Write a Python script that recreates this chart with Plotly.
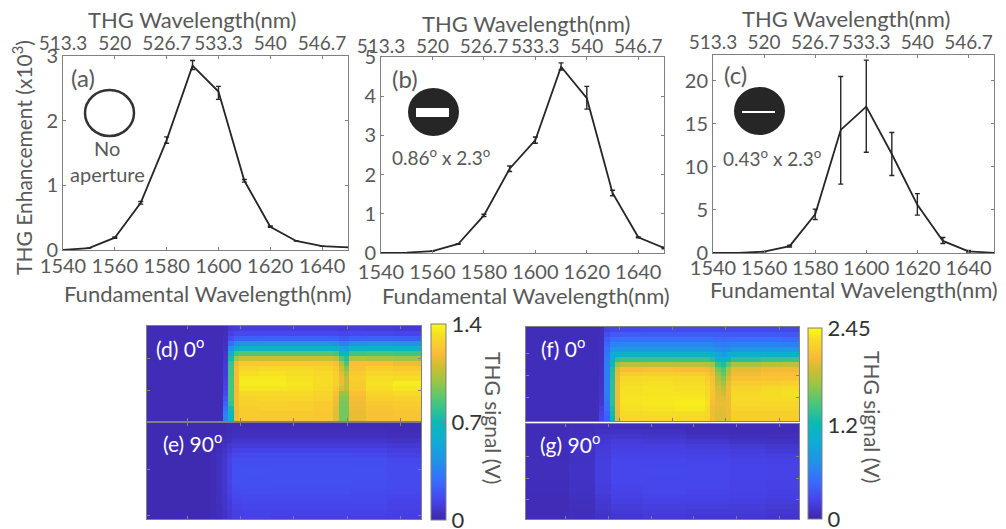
import plotly.graph_objects as go

W, H = 1006, 529
PAGE_H = 548
FONT = "Lato"
GREY = "#595959"
AXIS = "#808080"
DARK = "#262626"

wavelength = [1540, 1550, 1560, 1570, 1580, 1590, 1600, 1610, 1620, 1630, 1640, 1650]
fund_ticks = [1540, 1560, 1580, 1600, 1620, 1640]
thg_ticks = ["513.3", "520", "526.7", "533.3", "540", "546.7"]

a_y = [0.0, 0.03, 0.19, 0.73, 1.70, 2.85, 2.45, 1.07, 0.36, 0.14, 0.06, 0.04]
a_up = [0, 0, 0.01, 0.02, 0.05, 0.08, 0.08, 0.02, 0.01, 0, 0, 0]
a_dn = [0, 0, 0.01, 0.02, 0.05, 0.06, 0.12, 0.02, 0.01, 0, 0, 0]

b_y = [0.0, 0.01, 0.05, 0.23, 0.96, 2.15, 2.88, 4.75, 3.95, 1.53, 0.40, 0.13]
b_up = [0, 0, 0, 0.01, 0.03, 0.07, 0.08, 0.10, 0.30, 0.07, 0.01, 0.02]
b_dn = [0, 0, 0, 0.01, 0.03, 0.07, 0.08, 0.08, 0.28, 0.07, 0.01, 0.02]

c_y = [0.0, 0.02, 0.15, 0.80, 4.5, 14.3, 17.0, 11.5, 5.6, 1.4, 0.2, 0.02]
c_up = [0, 0, 0.02, 0.1, 0.6, 6.2, 5.4, 2.5, 1.3, 0.4, 0.1, 0]
c_dn = [0, 0, 0.02, 0.1, 0.6, 6.3, 5.3, 2.5, 1.2, 0.3, 0.1, 0]

parula = [
    [0.00, "rgb(62,38,168)"], [0.10, "rgb(71,68,236)"], [0.20, "rgb(56,108,254)"],
    [0.30, "rgb(33,146,232)"], [0.40, "rgb(14,172,214)"], [0.50, "rgb(12,185,180)"],
    [0.60, "rgb(70,198,125)"], [0.70, "rgb(150,198,70)"], [0.78, "rgb(205,190,50)"],
    [0.85, "rgb(250,188,55)"], [0.95, "rgb(246,225,35)"], [1.00, "rgb(249,251,21)"],
]

d_x = [0, 14.25, 15.25, 16.25, 17.25, 21, 26, 31, 34.9, 35.9, 36.9, 37.9, 41, 46, 51.3]
d_z = [
    [.03, .04, .09, .10, .11, .11, .11, .11, .11, .10, .10, .11, .10, .09],
    [.03, .04, .12, .15, .15, .15, .15, .15, .15, .14, .14, .15, .15, .14],
    [.03, .05, .17, .23, .24, .24, .24, .24, .24, .21, .21, .24, .24, .23],
    [.03, .05, .28, .40, .42, .43, .43, .43, .42, .36, .36, .42, .43, .42],
    [.03, .06, .42, .60, .63, .64, .64, .64, .63, .52, .50, .62, .64, .64],
    [.03, .07, .58, .82, .86, .86, .86, .86, .84, .68, .62, .82, .84, .82],
    [.03, .08, .72, 1.0, 1.08, 1.08, 1.08, 1.08, 1.05, .86, .75, 1.04, 1.02, 1.0],
    [.03, .09, .80, 1.15, 1.24, 1.24, 1.24, 1.24, 1.2, 1.02, .85, 1.2, 1.2, 1.16],
    [.03, .10, .82, 1.18, 1.29, 1.30, 1.30, 1.28, 1.24, 1.10, .95, 1.22, 1.26, 1.24],
    [.03, .10, .82, 1.18, 1.32, 1.33, 1.32, 1.30, 1.26, 1.14, 1.02, 1.24, 1.29, 1.28],
    [.03, .11, .84, 1.19, 1.35, 1.35, 1.33, 1.31, 1.26, 1.16, 1.06, 1.26, 1.32, 1.31],
    [.03, .12, .84, 1.19, 1.36, 1.36, 1.34, 1.31, 1.26, 1.16, 1.06, 1.25, 1.33, 1.36],
    [.03, .13, .84, 1.19, 1.34, 1.34, 1.33, 1.30, 1.24, 1.12, 1.04, 1.24, 1.32, 1.34],
    [.03, .15, .84, 1.18, 1.30, 1.30, 1.30, 1.28, 1.20, .98, .98, 1.20, 1.29, 1.30],
    [.03, .20, .84, 1.18, 1.28, 1.29, 1.29, 1.27, 1.18, .95, .95, 1.18, 1.26, 1.27],
    [.03, .24, .80, 1.18, 1.27, 1.27, 1.26, 1.25, 1.16, .93, .93, 1.17, 1.24, 1.25],
    [.03, .30, .72, 1.18, 1.25, 1.26, 1.26, 1.24, 1.14, .92, .92, 1.16, 1.22, 1.23],
    [.03, .35, .66, 1.16, 1.25, 1.24, 1.24, 1.23, 1.14, .92, .92, 1.15, 1.21, 1.22],
    [.03, .38, .62, 1.16, 1.24, 1.24, 1.24, 1.23, 1.14, .92, .92, 1.15, 1.21, 1.22],
]

e_x = [0, 12, 13, 14, 15, 16, 18, 23, 30, 38, 45, 51.3]
e_z = [
    [.02, .02, .02, .02, .03, .03, .03, .03, .03, .03, .03],
    [.02, .02, .02, .02, .03, .04, .04, .04, .04, .04, .03],
    [.02, .02, .02, .03, .04, .05, .05, .05, .05, .05, .04],
    [.02, .02, .03, .04, .05, .07, .07, .07, .07, .07, .06],
    [.02, .02, .03, .05, .08, .10, .10, .10, .10, .10, .09],
    [.02, .02, .04, .06, .10, .13, .13, .13, .13, .13, .11],
    [.02, .03, .05, .07, .12, .15, .16, .16, .16, .15, .13],
    [.02, .03, .05, .08, .13, .17, .17, .17, .17, .17, .15],
    [.02, .03, .05, .08, .13, .18, .18, .18, .18, .17, .16],
    [.02, .03, .05, .08, .13, .18, .19, .18, .18, .18, .16],
    [.02, .03, .05, .08, .13, .18, .18, .18, .18, .18, .16],
    [.02, .03, .05, .08, .13, .18, .18, .18, .18, .17, .16],
    [.02, .03, .05, .08, .12, .17, .18, .17, .17, .17, .16],
    [.02, .03, .05, .08, .12, .16, .17, .17, .17, .16, .15],
    [.02, .03, .05, .07, .11, .15, .16, .16, .16, .15, .14],
    [.02, .03, .05, .07, .10, .14, .15, .15, .15, .15, .13],
    [.02, .03, .04, .07, .10, .13, .14, .14, .14, .14, .13],
    [.02, .03, .04, .06, .09, .12, .13, .13, .13, .13, .12],
    [.02, .03, .04, .06, .09, .12, .13, .12, .12, .12, .11],
]

f_x = [0, 13.6, 14.7, 15.7, 16.7, 17.7, 22, 28, 33.5, 34.5, 35.5, 36.5, 37.5, 38.5, 44, 48, 51.2]
f_z = [
    [.06, .07, .22, .26, .26, .27, .28, .28, .28, .28, .27, .26, .27, .27, .27, .26],
    [.06, .07, .30, .38, .38, .40, .40, .40, .40, .40, .38, .38, .38, .38, .38, .36],
    [.06, .08, .38, .50, .50, .52, .52, .52, .52, .52, .50, .48, .50, .50, .50, .48],
    [.06, .08, .44, .64, .64, .66, .66, .66, .66, .66, .62, .60, .62, .64, .64, .62],
    [.06, .08, .50, .78, .78, .80, .80, .80, .80, .78, .72, .68, .72, .78, .80, .78],
    [.06, .09, .55, .95, 1.05, 1.10, 1.10, 1.10, 1.10, 1.04, .92, .85, .95, 1.05, 1.05, 1.05],
    [.06, .09, .58, 1.05, 1.38, 1.42, 1.42, 1.42, 1.42, 1.34, 1.14, 1.05, 1.2, 1.36, 1.40, 1.42],
    [.06, .09, .60, 1.20, 1.70, 1.84, 1.84, 1.84, 1.82, 1.76, 1.40, 1.30, 1.55, 1.78, 1.84, 1.86],
    [.06, .10, .60, 1.30, 1.96, 2.08, 2.10, 2.08, 2.06, 1.98, 1.62, 1.48, 1.78, 2.0, 2.05, 2.06],
    [.06, .10, .60, 1.32, 2.00, 2.18, 2.20, 2.18, 2.15, 2.05, 1.72, 1.56, 1.85, 2.06, 2.10, 2.10],
    [.06, .10, .60, 1.34, 2.04, 2.26, 2.28, 2.26, 2.20, 2.10, 1.80, 1.66, 1.95, 2.12, 2.14, 2.14],
    [.06, .11, .60, 1.36, 2.05, 2.30, 2.32, 2.30, 2.24, 2.12, 1.88, 1.76, 2.02, 2.18, 2.20, 2.22],
    [.06, .11, .60, 1.36, 2.06, 2.32, 2.34, 2.32, 2.26, 2.14, 1.94, 1.84, 2.06, 2.24, 2.28, 2.30],
    [.06, .12, .60, 1.36, 2.06, 2.33, 2.34, 2.34, 2.28, 2.12, 1.98, 1.92, 2.06, 2.27, 2.30, 2.32],
    [.06, .13, .58, 1.36, 2.06, 2.34, 2.35, 2.36, 2.30, 2.10, 2.00, 1.98, 2.04, 2.28, 2.30, 2.30],
    [.06, .14, .54, 1.36, 2.06, 2.34, 2.36, 2.38, 2.32, 2.08, 2.02, 2.02, 2.04, 2.26, 2.26, 2.26],
    [.06, .18, .50, 1.30, 2.06, 2.32, 2.34, 2.36, 2.30, 2.06, 2.00, 2.00, 2.04, 2.24, 2.24, 2.24],
    [.06, .22, .44, 1.24, 2.02, 2.28, 2.30, 2.30, 2.26, 2.04, 1.98, 1.98, 2.02, 2.20, 2.20, 2.20],
    [.06, .24, .42, 1.20, 2.00, 2.26, 2.28, 2.28, 2.24, 2.04, 1.98, 1.98, 2.02, 2.20, 2.20, 2.20],
]

g_x = [0, 8, 13, 16, 22, 30, 38, 45, 51.2]
g_z = [
    [.05, .06, .07, .07, .06, .05, .05, .05],
    [.05, .07, .10, .10, .09, .06, .05, .05],
    [.05, .08, .13, .14, .12, .09, .07, .07],
    [.06, .09, .15, .18, .16, .14, .11, .10],
    [.06, .10, .17, .20, .20, .18, .16, .14],
    [.06, .10, .18, .22, .22, .21, .19, .17],
    [.06, .10, .19, .24, .24, .23, .21, .20],
    [.07, .10, .20, .25, .25, .24, .23, .22],
    [.07, .11, .20, .25, .26, .25, .24, .23],
    [.07, .11, .20, .25, .27, .25, .24, .23],
    [.07, .11, .20, .25, .26, .25, .24, .23],
    [.06, .10, .20, .25, .26, .25, .23, .22],
    [.06, .10, .19, .24, .26, .25, .23, .22],
    [.06, .10, .19, .23, .25, .24, .23, .21],
    [.05, .09, .17, .22, .24, .23, .22, .20],
    [.05, .08, .15, .20, .22, .22, .20, .18],
    [.05, .08, .14, .18, .20, .19, .18, .16],
    [.05, .07, .12, .16, .18, .17, .16, .14],
    [.05, .07, .11, .14, .16, .15, .14, .12],
]
rows = list(range(20))


def px(x):
    return x / W


def py(y):
    return 1 - y / PAGE_H


def dom_x(l, r):
    return [px(l), px(r)]


def dom_y(t, b):
    return [py(b), py(t)]


fig = go.Figure()
layout = {}

line_panels = [
    ("", a_y, a_up, a_dn, (63, 348, 56, 250), [0, 3], [0, 1, 2, 3], -2, -3),
    ("2", b_y, b_up, b_dn, (381, 664, 57, 253), [0, 5], [0, 1, 2, 3, 4, 5], 1, -5),
    ("3", c_y, c_up, c_dn, (713, 994, 55, 253), [0, 23], [0, 5, 10, 15, 20], -3, -3),
]
topnames = {"": "4", "2": "5", "3": "6"}
for s, yv, up, dn, (l, r, t, b), yr, yt, stand, topstand in line_panels:
    ts = topnames[s]
    fig.add_trace(go.Scatter(
        x=wavelength, y=yv, mode="lines", xaxis="x" + s, yaxis="y" + s,
        line=dict(color=DARK, width=1.8), showlegend=False, cliponaxis=False,
        error_y=dict(type="data", symmetric=False, array=up, arrayminus=dn,
                     color=DARK, thickness=1.4, width=2.5),
    ))
    # invisible trace binds the top wavelength axis to its own scale
    fig.add_trace(go.Scatter(
        x=[w / 3 for w in wavelength], y=yv, mode="lines", xaxis="x" + ts, yaxis="y" + s,
        line=dict(color="rgba(0,0,0,0)", width=0), showlegend=False, hoverinfo="skip",
    ))
    tickf = dict(family=FONT, size=20, color=GREY)
    topf = dict(family=FONT, size=19, color=GREY)
    layout["xaxis" + s] = dict(
        domain=dom_x(l, r), range=[1540, 1650], anchor="y" + s, tickmode="array",
        tickvals=fund_ticks, ticks="inside", ticklen=3, tickcolor=AXIS, showgrid=False,
        zeroline=False, showline=True, linecolor=AXIS, linewidth=1, tickfont=tickf,
        tickangle=0, ticklabelstandoff=stand)
    layout["xaxis" + ts] = dict(
        domain=dom_x(l, r), range=[1540 / 3, 1650 / 3], anchor="y" + s, overlaying="x" + s,
        side="top", tickmode="array", tickvals=[w / 3 for w in fund_ticks], ticktext=thg_ticks,
        ticks="inside", ticklen=3, tickcolor=AXIS, showgrid=False, zeroline=False, tickangle=0,
        showline=True, linecolor=AXIS, linewidth=1, tickfont=topf, ticklabelstandoff=topstand)
    layout["yaxis" + s] = dict(
        domain=dom_y(t, b), range=yr, anchor="x" + s, tickmode="array", tickvals=yt,
        ticks="inside", ticklen=3, tickcolor=AXIS, showgrid=False, zeroline=False,
        showline=True, linecolor=AXIS, linewidth=1, mirror="ticks", tickfont=tickf)

heat_panels = [
    ("7", d_x, d_z, (147, 421, 326, 421), "coloraxis", [7.5, 17.5, 27.5, 37.5, 47.5], [6.5, 12.9], 19),
    ("8", e_x, e_z, (147, 421, 423, 519), "coloraxis", [7.5, 17.5, 27.5, 37.5, 47.5], [9.3, 18.4], 19),
    ("9", f_x, f_z, (526, 799, 327, 421), "coloraxis2", [17.5, 27.5, 37.5, 47.5], [5.3, 9.9, 14.3], 19),
    ("10", g_x, g_z, (526, 799, 424, 519), "coloraxis2", [7.5, 15.5, 23.5, 31.5, 39.5, 47.5], [6.5, 10.8, 15], 19),
]
for s, xe, z, (l, r, t, b), ca, xt, yt, nrow in heat_panels:
    fig.add_trace(go.Heatmap(x=xe, y=rows, z=z, xaxis="x" + s, yaxis="y" + s, coloraxis=ca))
    layout["xaxis" + s] = dict(
        domain=dom_x(l, r), range=[0, xe[-1]], anchor="y" + s, tickmode="array", tickvals=xt,
        ticks="inside", ticklen=3, tickcolor=AXIS, showticklabels=False, showgrid=False,
        zeroline=False, showline=True, linecolor=AXIS, linewidth=1, mirror="ticks")
    layout["yaxis" + s] = dict(
        domain=dom_y(t, b), range=[nrow, 0], anchor="x" + s, tickmode="array", tickvals=yt,
        ticks="inside", ticklen=3, tickcolor=AXIS, showticklabels=False, showgrid=False,
        zeroline=False, showline=True, linecolor=AXIS, linewidth=1, mirror="ticks")


def bar(cmax, ticks, l, r, t, b):
    return dict(
        cmin=0, cmax=cmax, colorscale=parula,
        colorbar=dict(
            x=px(l), xanchor="left", xref="paper", y=py(b), yanchor="bottom", yref="paper",
            len=(b - t) / PAGE_H, lenmode="fraction", thickness=r - l, thicknessmode="pixels",
            xpad=0, ypad=0, outlinecolor=AXIS, outlinewidth=1, tickmode="array", tickvals=ticks,
            ticktext=[str(v) for v in ticks], ticks="inside", ticklen=3, tickcolor=AXIS,
            tickfont=dict(family=FONT, size=22, color="#333333")))


layout["coloraxis"] = bar(1.4, [0, 0.7, 1.4], 431, 446, 324, 520)
layout["coloraxis2"] = bar(2.45, [0, 1.2, 2.45], 808, 822, 328, 519)


def note(text, x, y, size=22, color=GREY, angle=0):
    return dict(text=text, x=px(x), y=py(y), xref="paper", yref="paper", showarrow=False,
                xanchor="center", yanchor="middle", textangle=angle,
                font=dict(family=FONT, size=size, color=color))


annotations = [
    note("THG Wavelength(nm)", 192, 20), note("THG Wavelength(nm)", 526, 24),
    note("THG Wavelength(nm)", 846, 19),
    note("Fundamental Wavelength(nm)", 208, 293, 22), note("Fundamental Wavelength(nm)", 526, 295, 22),
    note("Fundamental Wavelength(nm)", 854, 289, 22),
    note("THG Enhancement (x10<sup>3</sup>)", 22, 158, 21, angle=-90),
    note("(a)", 83, 77, 24), note("(b)", 405, 79, 24), note("(c)", 735, 75, 24),
    note("No", 107, 148, 20), note("aperture", 107, 174, 20),
    note("0.86<sup>o</sup> x 2.3<sup>o</sup>", 441, 156, 19),
    note("0.43<sup>o</sup> x 2.3<sup>o</sup>", 772, 157, 19),
    note("(d) 0<sup>o</sup>", 180, 347, 21, "white"), note("(e) 90<sup>o</sup>", 192, 442, 21, "white"),
    note("(f) 0<sup>o</sup>", 563, 347, 21, "white"), note("(g) 90<sup>o</sup>", 570, 443, 21, "white"),
    note("THG signal (V)", 494, 418, 21, GREY, 90), note("THG signal (V)", 873, 417, 21, GREY, 90),
]


def paper_shape(kind, x0, y0, x1, y1, **kw):
    return dict(type=kind, xref="paper", yref="paper", x0=px(x0), x1=px(x1),
                y0=py(y0), y1=py(y1), **kw)


shapes = [
    paper_shape("circle", 85, 90, 134, 136, line=dict(color="#333333", width=2.5)),
    paper_shape("circle", 408, 88, 459, 136, fillcolor=DARK, line=dict(width=0)),
    paper_shape("rect", 416, 108, 449, 117, fillcolor="white", line=dict(width=0)),
    paper_shape("circle", 734, 87, 785, 135, fillcolor=DARK, line=dict(width=0)),
    paper_shape("line", 742, 112, 775, 112, line=dict(color="white", width=2)),
]

fig.update_layout(
    width=W, height=PAGE_H, margin=dict(l=0, r=0, t=0, b=0, autoexpand=False), autosize=False,
    paper_bgcolor="white", plot_bgcolor="white", showlegend=False,
    font=dict(family=FONT, color=GREY), annotations=annotations, shapes=shapes, **layout,
)
fig.write_html("out.html", config={"displayModeBar": False},
               post_script="document.body.style.margin='0';document.body.style.overflow='hidden';")
